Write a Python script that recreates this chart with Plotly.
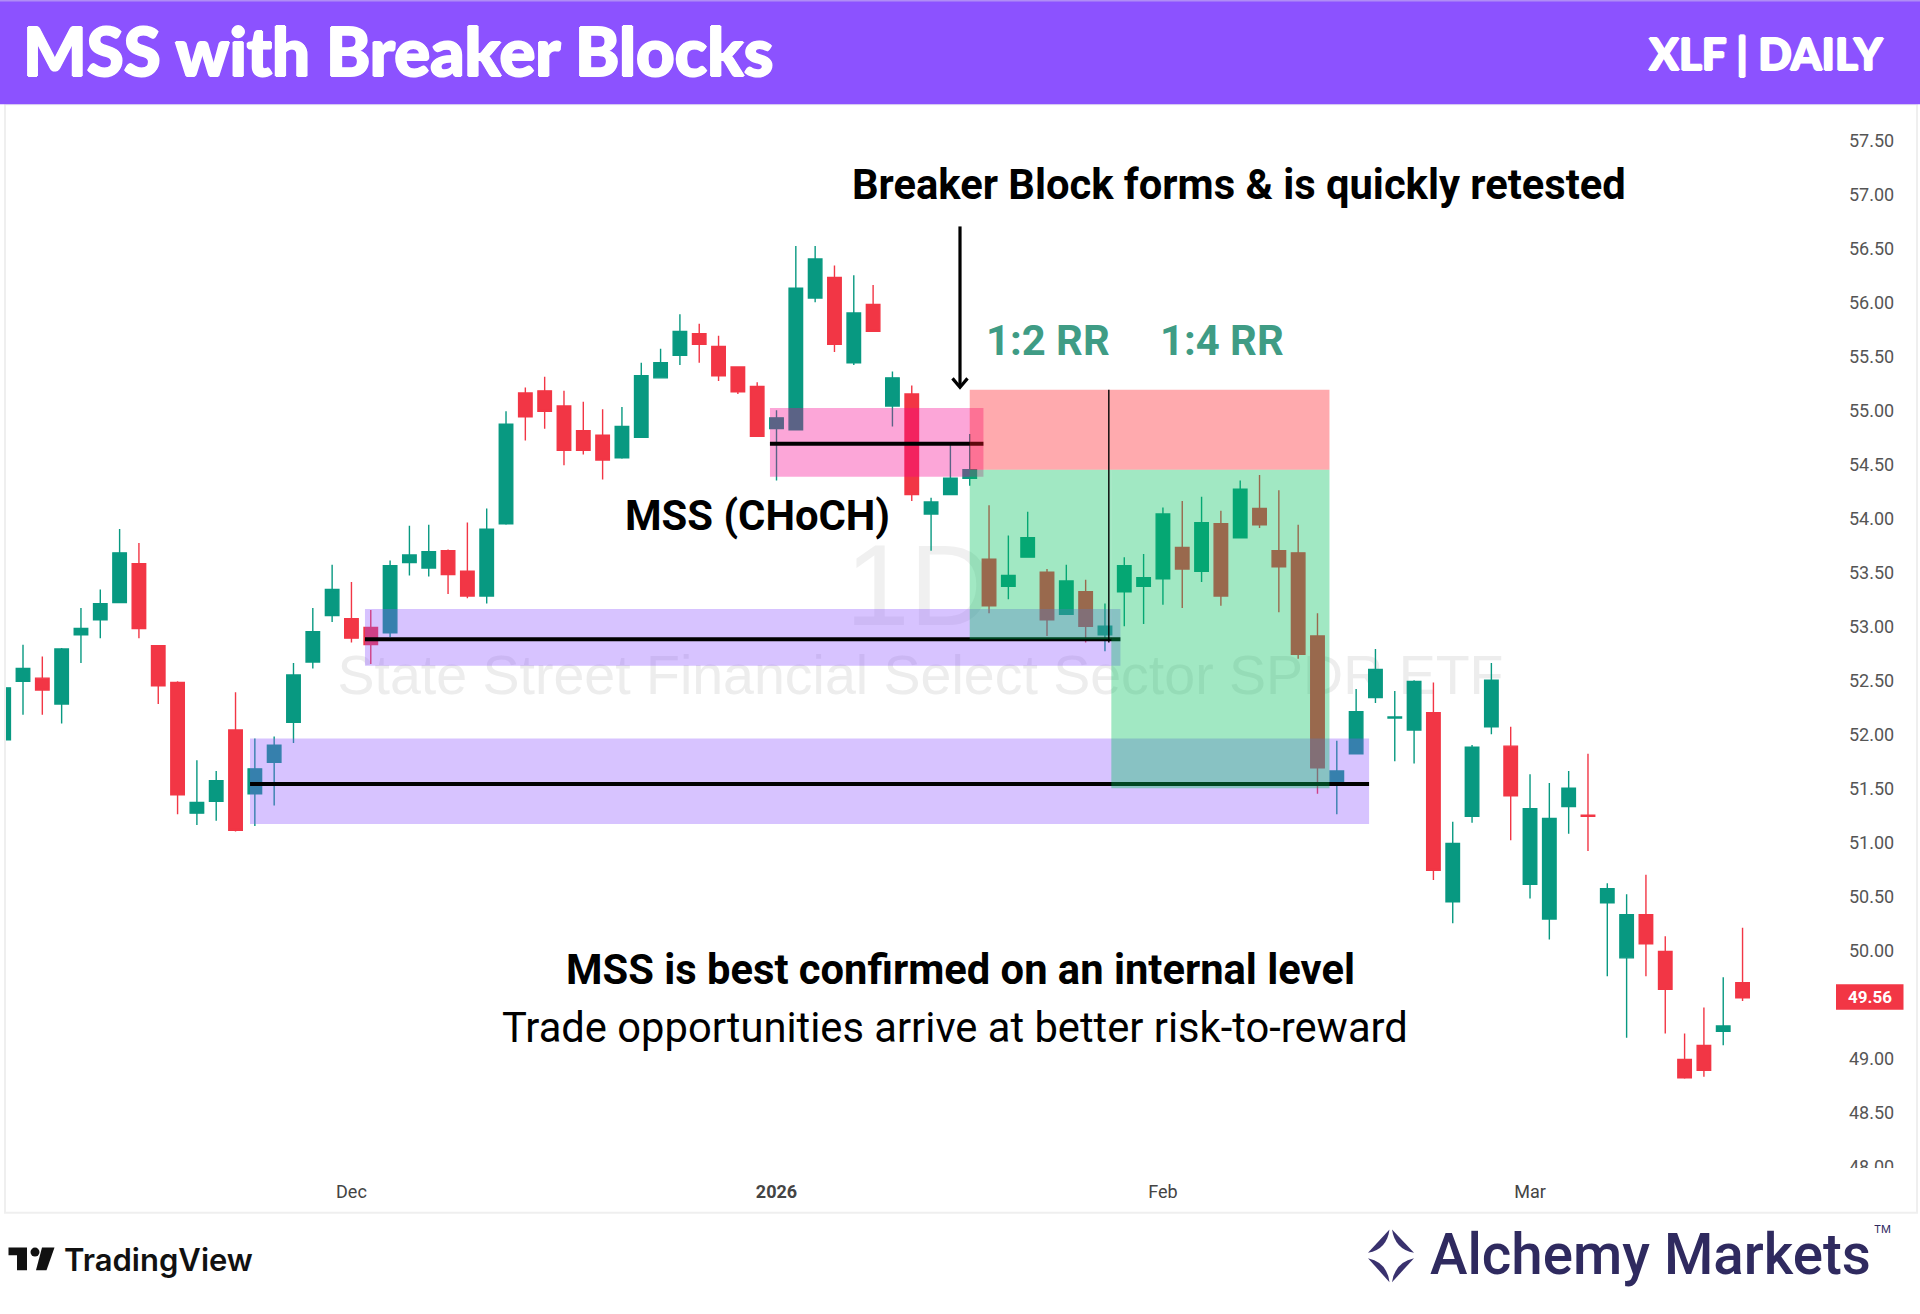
# MSS with Breaker Blocks - XLF daily candles with zones and position boxes

import plotly.graph_objects as go

W = 1920
H = 1314

dates = [
    "2025-11-04", "2025-11-05", "2025-11-06", "2025-11-07", "2025-11-10", "2025-11-11", "2025-11-12",
    "2025-11-13", "2025-11-14", "2025-11-17", "2025-11-18", "2025-11-19", "2025-11-20", "2025-11-21",
    "2025-11-24", "2025-11-25", "2025-11-26", "2025-11-28",
    "2025-12-01", "2025-12-02", "2025-12-03", "2025-12-04", "2025-12-05", "2025-12-08", "2025-12-09",
    "2025-12-10", "2025-12-11", "2025-12-12", "2025-12-15", "2025-12-16", "2025-12-17", "2025-12-18",
    "2025-12-19", "2025-12-22", "2025-12-23", "2025-12-24", "2025-12-26", "2025-12-29", "2025-12-30",
    "2025-12-31",
    "2026-01-02", "2026-01-05", "2026-01-06", "2026-01-07", "2026-01-08", "2026-01-09", "2026-01-12",
    "2026-01-13", "2026-01-14", "2026-01-15", "2026-01-16", "2026-01-20", "2026-01-21", "2026-01-22",
    "2026-01-23", "2026-01-26", "2026-01-27", "2026-01-28", "2026-01-29", "2026-01-30",
    "2026-02-02", "2026-02-03", "2026-02-04", "2026-02-05", "2026-02-06", "2026-02-09", "2026-02-10",
    "2026-02-11", "2026-02-12", "2026-02-13", "2026-02-17", "2026-02-18", "2026-02-19", "2026-02-20",
    "2026-02-23", "2026-02-24", "2026-02-25", "2026-02-26", "2026-02-27",
    "2026-03-02", "2026-03-03", "2026-03-04", "2026-03-05", "2026-03-06", "2026-03-09", "2026-03-10",
    "2026-03-11", "2026-03-12", "2026-03-13", "2026-03-16", "2026-03-17",
]

opens = [
    51.95, 52.49, 52.52, 52.28, 52.92, 53.06, 53.22, 53.58, 52.82, 52.48,
    51.27, 51.38, 52.04, 51.45, 51.74, 52.11, 52.67, 53.10, 53.07, 52.99,
    52.94, 53.59, 53.54, 53.70, 53.51, 53.28, 53.95, 55.16, 55.18, 55.04,
    54.81, 54.77, 54.56, 54.75, 55.30, 55.51, 55.71, 55.59, 55.40, 55.22,
    54.83, 54.82, 56.04, 56.23, 55.44, 55.98, 55.04, 55.15, 54.04, 54.22,
    54.37, 53.62, 53.37, 53.64, 53.50, 53.11, 53.32, 52.92, 53.32, 53.37,
    53.44, 53.73, 53.51, 53.95, 53.82, 54.09, 53.70, 53.68, 52.91, 51.55,
    51.82, 52.34, 52.15, 52.04, 52.20, 50.45, 51.24, 52.07, 51.89, 50.61,
    50.29, 51.33, 51.25, 50.44, 49.93, 50.33, 49.99, 48.99, 49.12, 49.25,
    49.70,
]
highs = [
    52.43, 52.83, 52.72, 52.80, 53.17, 53.34, 53.90, 53.77, 52.82, 52.49,
    51.76, 51.66, 52.39, 51.96, 51.98, 52.66, 53.17, 53.57, 53.41, 53.15,
    53.61, 53.93, 53.94, 53.71, 53.96, 54.09, 54.99, 55.21, 55.31, 55.18,
    55.08, 55.01, 55.03, 55.44, 55.57, 55.89, 55.80, 55.69, 55.40, 55.26,
    55.00, 56.52, 56.52, 56.34, 56.25, 56.16, 55.36, 55.23, 54.19, 54.69,
    54.78, 54.12, 53.84, 54.06, 53.53, 53.57, 53.43, 53.21, 53.64, 53.67,
    54.10, 54.16, 54.20, 54.07, 54.35, 54.40, 54.26, 53.94, 53.12, 51.94,
    52.42, 52.79, 52.40, 52.50, 52.48, 51.19, 51.90, 52.66, 52.07, 51.63,
    51.55, 51.66, 51.82, 50.62, 50.52, 50.70, 50.13, 49.23, 49.47, 49.75,
    50.21,
]
lows = [
    51.95, 52.18, 52.18, 52.10, 52.66, 52.89, 53.22, 52.89, 52.28, 51.26,
    51.16, 51.20, 51.10, 51.15, 51.34, 51.92, 52.61, 53.04, 52.85, 52.65,
    52.90, 53.47, 53.46, 53.30, 53.26, 53.21, 53.94, 54.72, 54.83, 54.49,
    54.59, 54.36, 54.55, 54.75, 55.30, 55.42, 55.44, 55.27, 55.15, 54.76,
    54.35, 54.82, 56.00, 55.54, 55.42, 55.73, 54.85, 54.16, 53.70, 54.22,
    54.30, 53.12, 53.25, 53.64, 52.91, 53.11, 52.85, 52.77, 53.00, 53.02,
    53.20, 53.17, 53.41, 53.19, 53.82, 53.91, 53.13, 52.70, 51.45, 51.26,
    51.82, 52.29, 51.75, 51.73, 50.65, 50.25, 51.18, 52.00, 51.02, 50.48,
    50.10, 51.08, 50.92, 49.76, 49.19, 49.76, 49.23, 48.81, 48.83, 49.12,
    49.53,
]
closes = [
    52.43, 52.61, 52.41, 52.79, 52.98, 53.21, 53.68, 52.98, 52.45, 51.44,
    51.37, 51.57, 51.11, 51.68, 51.90, 52.55, 52.95, 53.34, 52.89, 52.83,
    53.56, 53.66, 53.69, 53.48, 53.28, 53.90, 54.87, 54.94, 54.99, 54.63,
    54.63, 54.54, 54.85, 55.32, 55.44, 55.73, 55.61, 55.32, 55.17, 54.76,
    54.93, 56.13, 56.40, 55.61, 55.90, 55.73, 55.30, 54.22, 54.15, 54.37,
    54.45, 53.19, 53.47, 53.82, 53.06, 53.42, 53.00, 53.00, 53.56, 53.45,
    54.04, 53.53, 53.96, 53.28, 54.27, 53.94, 53.55, 52.74, 51.69, 51.66,
    52.21, 52.60, 52.16, 52.49, 50.74, 50.99, 51.88, 52.50, 51.43, 51.31,
    51.22, 51.50, 51.24, 50.57, 50.33, 50.06, 49.64, 48.82, 48.89, 49.30,
    49.56,
]

# 49.50 is left out, the last price tag sits on it
price_ticks = [48.0, 48.5, 49.0, 50.0, 50.5, 51.0, 51.5, 52.0, 52.5, 53.0, 53.5,
               54.0, 54.5, 55.0, 55.5, 56.0, 56.5, 57.0, 57.5]
month_dates = ["2025-12-01", "2026-01-02", "2026-02-02", "2026-03-02"]
month_labels = ["Dec", "<b>2026</b>", "Feb", "Mar"]
last_price = "49.56"


# pixel position on the picture -> paper fraction
def px(x):
    return x / W


def py(y):
    return 1 - y / H


def rect(x0, x1, y0, y1, color, layer="above"):
    return dict(type="rect", xref="x", yref="y", x0=x0, x1=x1, y0=y0, y1=y1,
                fillcolor=color, line_width=0, layer=layer)


def hline(x0, x1, y, width=4):
    return dict(type="line", xref="x", yref="y", x0=x0, x1=x1, y0=y, y1=y,
                line=dict(color="black", width=width), layer="above")


def page_path(points, color, line=0, fill=True):
    # points are (command, x, y, ...) in picture pixels
    parts = []
    for p in points:
        nums = [f"{px(v) if i % 2 == 0 else py(v)}" for i, v in enumerate(p[1:])]
        parts.append(p[0] + " " + " ".join(nums))
    path = " ".join(parts) + (" Z" if fill else "")
    return dict(type="path", xref="paper", yref="paper", path=path,
                fillcolor=color if fill else "rgba(0,0,0,0)",
                line=dict(color=color, width=line), layer="above")


def page_rect(x0, x1, y0, y1, color, layer="above", line=None):
    return dict(type="rect", xref="paper", yref="paper", x0=px(x0), x1=px(x1), y0=py(y1), y1=py(y0),
                fillcolor=color, line=line or dict(width=0), layer=layer)


def label(x, y, text, size, color="black", anchor="left", family="Roboto", weight=None, shadow=None):
    return dict(xref="paper", yref="paper", x=px(x), y=py(y), text=text, showarrow=False,
                xanchor=anchor, yanchor="middle", align=anchor,
                font=dict(family=family, size=size, color=color, weight=weight, shadow=shadow))


def watermark(x0, x1, y0, y1, text, size, color):
    s = page_rect(x0, x1, y0, y1, "rgba(0,0,0,0)", layer="below")
    s["label"] = dict(text=text, textposition="middle center",
                      font=dict(family="Liberation Sans", size=size, color=color))
    return s


fig = go.Figure(go.Candlestick(
    x=dates, open=opens, high=highs, low=lows, close=closes,
    increasing=dict(line=dict(color="#089981", width=1.4), fillcolor="#089981"),
    decreasing=dict(line=dict(color="#F23645", width=1.4), fillcolor="#F23645"),
    whiskerwidth=0, hoverinfo="skip", showlegend=False,
))

PURPLE = "rgba(140,82,255,0.35)"
PINK = "rgba(245,0,143,0.35)"
LOSS = "rgba(255,25,36,0.37)"
GAIN = "rgba(0,193,93,0.37)"
HEAVY = "1px 0 0 white, -1px 0 0 white, 0 1px 0 white, 0 -1px 0 white"

shapes = [
    # chart frame and watermarks sit under the candles
    page_rect(5, 1917, 105, 1221, "white", layer="below", line=dict(color="#efefef", width=2)),
    watermark(337, 1504, 640, 708, "State Street Financial Select Sector SPDR ETF", 55.5, "#ededed"),
    watermark(848, 990, 505, 650, "1D", 115, "#f0f0f0"),
    # zones
    rect(12.75, 70.67, 51.17, 51.96, PURPLE),
    rect(18.7, 57.8, 52.635, 53.16, PURPLE),
    rect(39.66, 50.71, 54.385, 55.02, PINK),
    hline(12.75, 70.67, 51.54),
    hline(18.7, 57.8, 52.88),
    hline(39.66, 50.71, 54.69),
    # risk / reward boxes
    rect(50.0, 68.62, 54.45, 55.19, LOSS),
    rect(50.0, 57.33, 52.88, 54.45, GAIN),
    rect(57.33, 68.62, 51.50, 54.45, GAIN),
    dict(type="line", xref="x", yref="y", x0=57.2, x1=57.2, y0=52.85, y1=55.19,
         line=dict(color="black", width=1.4), layer="above"),
    # header
    page_rect(0, W, 0, 105, "#8C52FF"),
    page_rect(0, W, 0, 1.5, "#B08DF5"),
    # arrow
    page_path([("M", 960, 228), ("L", 960, 389)], "black", line=3.2, fill=False),
    page_path([("M", 952.5, 381), ("L", 960, 390), ("L", 967.5, 381)], "black", line=3.2, fill=False),
    # hide the lower half of the 48.00 label
    page_rect(1840, 1912, 1176, 1190, "white"),
    # price tag
    page_rect(1836, 1903.5, 991, 1016.7, "#F23645"),
    # TradingView mark
    page_path([("M", 8.5, 1256), ("L", 27, 1256), ("L", 27, 1279), ("L", 17, 1279), ("L", 17, 1264), ("L", 8.5, 1264)], "#111111"),
    dict(type="circle", xref="paper", yref="paper", x0=px(30.5), x1=px(39.5), y0=py(1265.2), y1=py(1256.2),
         fillcolor="#111111", line_width=0, layer="above"),
    page_path([("M", 42, 1256), ("L", 54.5, 1256), ("L", 46.5, 1279), ("L", 36, 1279)], "#111111"),
    # Alchemy Markets mark, four leaves around a star
    page_path([("M", 1389.5, 1238), ("L", 1368, 1261.5), ("Q", 1387, 1258, 1389.5, 1238)], "#39316E"),
    page_path([("M", 1392, 1238), ("L", 1414, 1261.5), ("Q", 1395, 1258, 1392, 1238)], "#39316E"),
    page_path([("M", 1389.5, 1291), ("L", 1368, 1267), ("Q", 1387, 1271, 1389.5, 1291)], "#39316E"),
    page_path([("M", 1392, 1291), ("L", 1414, 1267), ("Q", 1395, 1271, 1392, 1291)], "#39316E"),
]

annotations = [
    label(21, 50, "MSS with Breaker Blocks", 67, "white", family="Lato", weight=900, shadow=HEAVY),
    label(1886, 53, "XLF | DAILY", 44, "white", anchor="right", family="Lato", weight=900, shadow=HEAVY),
    label(850, 186, "Breaker Block forms &amp; is quickly retested", 41.7, weight=700),
    label(984, 343, "1:2 RR", 41.8, "#3F9C85", weight=700),
    label(1158, 343, "1:4 RR", 41.8, "#3F9C85", weight=700),
    label(623, 519, "MSS (CHoCH)", 41.8, weight=700),
    label(564, 976, "MSS is best confirmed on an internal level", 41.7, weight=700),
    label(500, 1035, "Trade opportunities arrive at better risk-to-reward", 41.7),
    label(1870, 1004, last_price, 17, "white", anchor="center", weight=700),
    label(62, 1268, "TradingView", 31, "#111111", family="Inter", weight=600),
    label(1428, 1264, "Alchemy Markets", 56.5, "#2F2A5F", family="Roboto", weight=500),
    label(1872, 1237, "TM", 11, "#2F2A5F", family="Inter"),
]

fig.update_layout(
    width=W, height=H,
    margin=dict(l=0, r=0, t=0, b=0),
    paper_bgcolor="white", plot_bgcolor="rgba(0,0,0,0)",
    boxgap=0.28, boxgroupgap=0.03,
    shapes=shapes, annotations=annotations,
    xaxis=dict(
        type="category", domain=[px(6), px(1815)], range=[0.12, 93.75],
        tickmode="array", tickvals=month_dates, ticktext=month_labels,
        rangeslider=dict(visible=False), showgrid=False, zeroline=False, showline=False,
        ticks="", ticklabelstandoff=11, tickangle=0,
        tickfont=dict(family="Roboto", size=18, color="#444444"),
    ),
    yaxis=dict(
        side="right", domain=[py(1176), py(105)], range=[47.985, 57.833],
        tickmode="array", tickvals=price_ticks, ticktext=[f"{v:.2f}" for v in price_ticks],
        showgrid=False, zeroline=False, showline=False, ticks="", ticklabelstandoff=33,
        tickfont=dict(family="Roboto", size=18, color="#555555"),
    ),
)

fig.write_html("out.html", config=dict(displayModeBar=False),
               post_script="document.body.style.margin='0';")
